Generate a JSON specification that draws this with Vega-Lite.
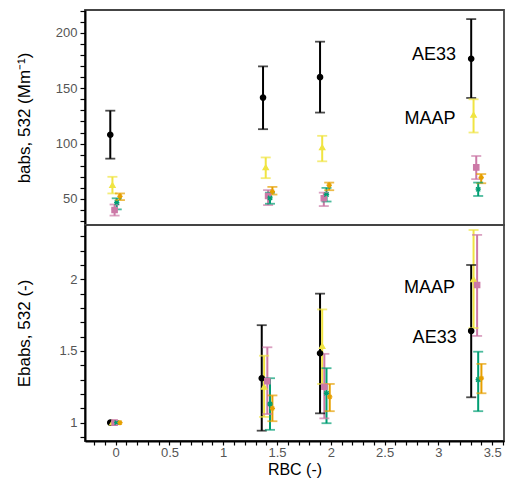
{
  "$schema": "https://vega.github.io/schema/vega-lite/v6.json",
  "padding": {"left": 14, "top": 3, "right": 6, "bottom": 0},
  "background": "white",
  "bounds": "flush",
  "config": {
    "font": "Liberation Sans",
    "view": {"stroke": "#444", "strokeWidth": 1.8},
    "axis": {"domainColor": "black", "domainWidth": 2, "tickColor": "black", "tickWidth": 1.2, "tickSize": 5, "labelColor": "#555", "labelFontSize": 13, "labelPadding": 3, "titleFontSize": 17, "titleFontWeight": "normal", "titleColor": "black", "grid": false},
    "concat": {"spacing": 0}
  },
  "datasets": {
    "obs": [
      {"panel": "b", "instrument": "AE33", "rbc": -0.05, "value": 108, "lo": 86.4, "hi": 129.7},
      {"panel": "b", "instrument": "AE33", "rbc": 1.37, "value": 141.5, "lo": 113, "hi": 169.7},
      {"panel": "b", "instrument": "AE33", "rbc": 1.9, "value": 160, "lo": 128, "hi": 192},
      {"panel": "b", "instrument": "AE33", "rbc": 3.305, "value": 176.6, "lo": 141.2, "hi": 212.4},
      {"panel": "b", "instrument": "MAAP", "rbc": -0.03, "value": 62.5, "lo": 55, "hi": 70},
      {"panel": "b", "instrument": "MAAP", "rbc": 1.395, "value": 78.5, "lo": 68.8, "hi": 87.5},
      {"panel": "b", "instrument": "MAAP", "rbc": 1.92, "value": 96.6, "lo": 84, "hi": 107},
      {"panel": "b", "instrument": "MAAP", "rbc": 3.327, "value": 126, "lo": 110, "hi": 140},
      {"panel": "b", "instrument": "Instrument 3", "rbc": -0.01, "value": 40, "lo": 35, "hi": 45},
      {"panel": "b", "instrument": "Instrument 3", "rbc": 1.417, "value": 52.7, "lo": 44.5, "hi": 58},
      {"panel": "b", "instrument": "Instrument 3", "rbc": 1.935, "value": 50.6, "lo": 43.6, "hi": 55.7},
      {"panel": "b", "instrument": "Instrument 3", "rbc": 3.352, "value": 78.5, "lo": 67.9, "hi": 88.8},
      {"panel": "b", "instrument": "Instrument 4", "rbc": 0.01, "value": 46.7, "lo": 40.6, "hi": 50.6},
      {"panel": "b", "instrument": "Instrument 4", "rbc": 1.435, "value": 51, "lo": 45.7, "hi": 55.7},
      {"panel": "b", "instrument": "Instrument 4", "rbc": 1.96, "value": 54, "lo": 47.7, "hi": 60},
      {"panel": "b", "instrument": "Instrument 4", "rbc": 3.37, "value": 58.8, "lo": 52.7, "hi": 64.8},
      {"panel": "b", "instrument": "Instrument 5", "rbc": 0.04, "value": 52.4, "lo": 49, "hi": 55},
      {"panel": "b", "instrument": "Instrument 5", "rbc": 1.457, "value": 56.7, "lo": 54, "hi": 60.9},
      {"panel": "b", "instrument": "Instrument 5", "rbc": 1.985, "value": 62.4, "lo": 57.9, "hi": 64.8},
      {"panel": "b", "instrument": "Instrument 5", "rbc": 3.398, "value": 69.4, "lo": 64.2, "hi": 72.5},
      {"panel": "E", "instrument": "AE33", "rbc": -0.05, "value": 1, "lo": null, "hi": null},
      {"panel": "E", "instrument": "AE33", "rbc": 1.358, "value": 1.31, "lo": 0.944, "hi": 1.68},
      {"panel": "E", "instrument": "AE33", "rbc": 1.9, "value": 1.484, "lo": 1.065, "hi": 1.9},
      {"panel": "E", "instrument": "AE33", "rbc": 3.305, "value": 1.64, "lo": 1.177, "hi": 2.1},
      {"panel": "E", "instrument": "MAAP", "rbc": -0.03, "value": 1, "lo": null, "hi": null},
      {"panel": "E", "instrument": "MAAP", "rbc": 1.38, "value": 1.25, "lo": 1.04, "hi": 1.467},
      {"panel": "E", "instrument": "MAAP", "rbc": 1.92, "value": 1.535, "lo": 1.27, "hi": 1.79},
      {"panel": "E", "instrument": "MAAP", "rbc": 3.327, "value": 2.0, "lo": 1.66, "hi": 2.344},
      {"panel": "E", "instrument": "Instrument 3", "rbc": -0.01, "value": 1, "lo": null, "hi": null},
      {"panel": "E", "instrument": "Instrument 3", "rbc": 1.41, "value": 1.29, "lo": 1.06, "hi": 1.526},
      {"panel": "E", "instrument": "Instrument 3", "rbc": 1.94, "value": 1.25, "lo": 1.03, "hi": 1.48},
      {"panel": "E", "instrument": "Instrument 3", "rbc": 3.36, "value": 1.96, "lo": 1.605, "hi": 2.31},
      {"panel": "E", "instrument": "Instrument 4", "rbc": 0.01, "value": 1, "lo": null, "hi": null},
      {"panel": "E", "instrument": "Instrument 4", "rbc": 1.435, "value": 1.13, "lo": 0.95, "hi": 1.31},
      {"panel": "E", "instrument": "Instrument 4", "rbc": 1.96, "value": 1.205, "lo": 0.996, "hi": 1.38},
      {"panel": "E", "instrument": "Instrument 4", "rbc": 3.37, "value": 1.3, "lo": 1.08, "hi": 1.495},
      {"panel": "E", "instrument": "Instrument 5", "rbc": 0.04, "value": 1, "lo": null, "hi": null},
      {"panel": "E", "instrument": "Instrument 5", "rbc": 1.457, "value": 1.1, "lo": 1.01, "hi": 1.19},
      {"panel": "E", "instrument": "Instrument 5", "rbc": 1.99, "value": 1.18, "lo": 1.08, "hi": 1.27},
      {"panel": "E", "instrument": "Instrument 5", "rbc": 3.4, "value": 1.31, "lo": 1.205, "hi": 1.41}
    ],
    "labels": [
      {"panel": "b", "text": "AE33", "rbc": 3.165, "value": 180},
      {"panel": "b", "text": "MAAP", "rbc": 3.16, "value": 122},
      {"panel": "E", "text": "MAAP", "rbc": 3.155, "value": 1.937},
      {"panel": "E", "text": "AE33", "rbc": 3.17, "value": 1.589}
    ]
  },
  "vconcat": [
    {
      "width": 419,
      "height": 215,
      "layer": [
        {
          "data": {"name": "obs"},
          "transform": [{"filter": "datum.panel == 'b'"}],
          "mark": {"type": "rule", "strokeWidth": 2},
          "encoding": {
            "x": {"field": "rbc", "type": "quantitative", "scale": {"domain": [-0.285, 3.61], "nice": false, "zero": false}, "axis": null},
            "y": {"field": "lo", "type": "quantitative", "scale": {"domain": [26.5, 220.6], "nice": false, "zero": false}, "axis": {"title": "babs, 532 (Mm⁻¹)", "values": [30,40,50,60,70,80,90,100,110,120,130,140,150,160,170,180,190,200,210,220], "tickCount": 100, "format": "d", "labelOverlap": false, "labelExpr": "datum.value % 50 == 0 ? datum.label : ''", "titleX": -52}},
            "y2": {"field": "hi"},
            "color": {"field": "instrument", "type": "nominal", "scale": {"domain": ["AE33", "MAAP", "Instrument 3", "Instrument 4", "Instrument 5"], "range": ["#000000", "#F0E442", "#CC79A7", "#009E73", "#E69F00"]}, "legend": null}
          }
        },
        {
          "data": {"name": "obs"},
          "transform": [{"filter": "datum.panel == 'b'"}],
          "mark": {"type": "tick", "orient": "horizontal", "size": 10, "thickness": 1.8},
          "encoding": {
            "x": {"field": "rbc", "type": "quantitative"},
            "y": {"field": "lo", "type": "quantitative"},
            "color": {"field": "instrument", "type": "nominal", "legend": null}
          }
        },
        {
          "data": {"name": "obs"},
          "transform": [{"filter": "datum.panel == 'b'"}],
          "mark": {"type": "tick", "orient": "horizontal", "size": 10, "thickness": 1.8},
          "encoding": {
            "x": {"field": "rbc", "type": "quantitative"},
            "y": {"field": "hi", "type": "quantitative"},
            "color": {"field": "instrument", "type": "nominal", "legend": null}
          }
        },
        {
          "data": {"name": "obs"},
          "transform": [{"filter": "datum.panel == 'b'"}],
          "mark": {"type": "point", "filled": true, "opacity": 1, "strokeWidth": 1.3},
          "encoding": {
            "x": {"field": "rbc", "type": "quantitative"},
            "y": {"field": "value", "type": "quantitative"},
            "color": {"field": "instrument", "type": "nominal", "legend": null},
            "stroke": {"field": "instrument", "type": "nominal", "scale": {"domain": ["AE33", "MAAP", "Instrument 3", "Instrument 4", "Instrument 5"], "range": ["#000000", "#F0E442", "#CC79A7", "#009E73", "#E69F00"]}, "legend": null},
            "shape": {"field": "instrument", "type": "nominal", "scale": {"domain": ["AE33", "MAAP", "Instrument 3", "Instrument 4", "Instrument 5"], "range": ["circle", "triangle-up", "square", "M-0.8,-0.8L0.8,0.8M-0.8,0.8L0.8,-0.8M-1,0L1,0", "M-1,0L1,0M0,-1L0,1M-0.7,-0.7L0.7,0.7M-0.7,0.7L0.7,-0.7"]}, "legend": null},
            "size": {"value": 28}
          }
        },
        {
          "data": {"name": "labels"},
          "transform": [{"filter": "datum.panel == 'b'"}],
          "mark": {"type": "text", "align": "right", "baseline": "middle", "fontSize": 18, "color": "black"},
          "encoding": {
            "x": {"field": "rbc", "type": "quantitative"},
            "y": {"field": "value", "type": "quantitative"},
            "text": {"field": "text"}
          }
        }
      ]
    },
    {
      "width": 419,
      "height": 216,
      "layer": [
        {
          "data": {"name": "obs"},
          "transform": [{"filter": "datum.panel == 'E' && datum.lo != null"}],
          "mark": {"type": "rule", "strokeWidth": 2},
          "encoding": {
            "x": {"field": "rbc", "type": "quantitative", "scale": {"domain": [-0.285, 3.61], "nice": false, "zero": false}, "axis": {"title": "RBC (-)", "values": [-0.2,-0.1,0,0.1,0.2,0.3,0.4,0.5,0.6,0.7,0.8,0.9,1,1.1,1.2,1.3,1.4,1.5,1.6,1.7,1.8,1.9,2,2.1,2.2,2.3,2.4,2.5,2.6,2.7,2.8,2.9,3,3.1,3.2,3.3,3.4,3.5,3.6], "tickCount": 100, "format": "~g", "labelOverlap": false, "labelFlush": false, "labelPadding": 1, "tickSize": 4, "labelExpr": "abs(round(datum.value * 10)) % 5 == 0 ? datum.label : ''", "titleFontSize": 16, "titleBaseline": "middle", "titleY": 28}},
            "y": {"field": "lo", "type": "quantitative", "scale": {"domain": [0.872, 2.379], "nice": false, "zero": false}, "axis": {"title": "Ebabs, 532 (-)", "values": [0.9,1,1.1,1.2,1.3,1.4,1.5,1.6,1.7,1.8,1.9,2,2.1,2.2,2.3], "tickCount": 100, "format": "~g", "labelOverlap": false, "labelExpr": "abs(round(datum.value * 10)) % 5 == 0 ? datum.label : ''", "titleX": -52}},
            "y2": {"field": "hi"},
            "color": {"field": "instrument", "type": "nominal", "scale": {"domain": ["AE33", "MAAP", "Instrument 3", "Instrument 4", "Instrument 5"], "range": ["#000000", "#F0E442", "#CC79A7", "#009E73", "#E69F00"]}, "legend": null}
          }
        },
        {
          "data": {"name": "obs"},
          "transform": [{"filter": "datum.panel == 'E' && datum.lo != null"}],
          "mark": {"type": "tick", "orient": "horizontal", "size": 10, "thickness": 1.8},
          "encoding": {
            "x": {"field": "rbc", "type": "quantitative"},
            "y": {"field": "lo", "type": "quantitative"},
            "color": {"field": "instrument", "type": "nominal", "legend": null}
          }
        },
        {
          "data": {"name": "obs"},
          "transform": [{"filter": "datum.panel == 'E' && datum.lo != null"}],
          "mark": {"type": "tick", "orient": "horizontal", "size": 10, "thickness": 1.8},
          "encoding": {
            "x": {"field": "rbc", "type": "quantitative"},
            "y": {"field": "hi", "type": "quantitative"},
            "color": {"field": "instrument", "type": "nominal", "legend": null}
          }
        },
        {
          "data": {"name": "obs"},
          "transform": [{"filter": "datum.panel == 'E'"}],
          "mark": {"type": "point", "filled": true, "opacity": 1, "strokeWidth": 1.3},
          "encoding": {
            "x": {"field": "rbc", "type": "quantitative"},
            "y": {"field": "value", "type": "quantitative"},
            "color": {"field": "instrument", "type": "nominal", "legend": null},
            "stroke": {"field": "instrument", "type": "nominal", "scale": {"domain": ["AE33", "MAAP", "Instrument 3", "Instrument 4", "Instrument 5"], "range": ["#000000", "#F0E442", "#CC79A7", "#009E73", "#E69F00"]}, "legend": null},
            "shape": {"field": "instrument", "type": "nominal", "scale": {"domain": ["AE33", "MAAP", "Instrument 3", "Instrument 4", "Instrument 5"], "range": ["circle", "triangle-up", "square", "M-0.8,-0.8L0.8,0.8M-0.8,0.8L0.8,-0.8M-1,0L1,0", "M-1,0L1,0M0,-1L0,1M-0.7,-0.7L0.7,0.7M-0.7,0.7L0.7,-0.7"]}, "legend": null},
            "size": {"value": 28}
          }
        },
        {
          "data": {"name": "labels"},
          "transform": [{"filter": "datum.panel == 'E'"}],
          "mark": {"type": "text", "align": "right", "baseline": "middle", "fontSize": 18, "color": "black"},
          "encoding": {
            "x": {"field": "rbc", "type": "quantitative"},
            "y": {"field": "value", "type": "quantitative"},
            "text": {"field": "text"}
          }
        }
      ]
    }
  ]
}
